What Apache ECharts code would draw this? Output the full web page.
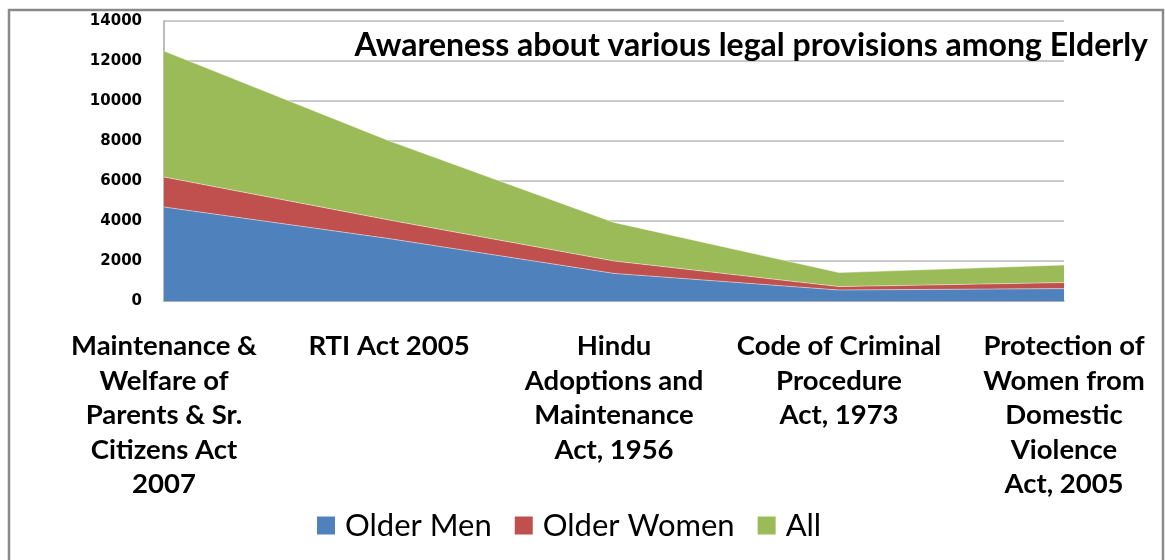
<!DOCTYPE html>
<html>
<head>
<meta charset="utf-8">
<script src="https://cdn.jsdelivr.net/npm/echarts@6/dist/echarts.min.js"></script>
<style>
	html, body { margin: 0; padding: 0; background: #fff; }
	#chartBox { width: 1165px; height: 560px; }
</style>
</head>
<body>
<div id="chartBox"></div>
<script>
// categories (line breaks as in the original labels)
var categories = [
	'Maintenance &\nWelfare of\nParents & Sr.\nCitizens Act\n2007',
	'RTI Act 2005',
	'Hindu\nAdoptions and\nMaintenance\nAct, 1956',
	'Code of Criminal\nProcedure\nAct, 1973',
	'Protection of\nWomen from\nDomestic\nViolence\nAct, 2005'
];
var seriesNames = ['Older Men', 'Older Women', 'All'];
var olderMen = [4700, 3120, 1380, 550, 620];
var olderWomen = [1500, 930, 620, 170, 300];
var allElderly = [6300, 3960, 1930, 700, 880];
var yTicks = { min: 0, max: 14000, step: 2000 };
var colors = ['#4F81BD', '#C0504D', '#9BBB59'];

var myChart = echarts.init(document.getElementById('chartBox'));

function areaSeries(name, values, color) {
	return {
		name: name,
		type: 'line',
		stack: 'total',
		symbol: 'none',
		data: values,
		itemStyle: { color: color },
		lineStyle: { width: 1, color: 'rgba(255,255,255,0.45)' },
		areaStyle: { color: color, opacity: 1 }
	};
}

var option = {
	animation: false,
	title: {
		text: 'Awareness about various legal provisions among Elderly',
		right: 12,
		top: 25,
		textStyle: { fontFamily: 'Lato', fontWeight: 'bold', fontSize: 32, color: '#000' }
	},
	legend: {
		left: 312,
		top: 505,
		itemWidth: 18,
		itemHeight: 18,
		itemGap: 23,
		icon: 'rect',
		data: seriesNames,
		textStyle: { fontFamily: 'Lato', fontSize: 31, color: '#000', padding: [0, 0, 0, 5] }
	},
	grid: { left: 164, right: 101, top: 21, bottom: 259 },
	xAxis: {
		type: 'category',
		boundaryGap: false,
		data: categories,
		axisLine: { show: true, lineStyle: { color: '#a6a6a6', width: 1.5 } },
		axisTick: { show: false },
		axisLabel: {
			interval: 0,
			margin: 28,
			fontFamily: 'Lato',
			fontWeight: 'bold',
			fontSize: 27.5,
			lineHeight: 34.5,
			color: '#000',
			align: 'center'
		}
	},
	yAxis: {
		type: 'value',
		min: yTicks.min,
		max: yTicks.max,
		interval: yTicks.step,
		axisLine: { show: true, lineStyle: { color: '#a6a6a6', width: 1.5 } },
		axisTick: { show: false },
		splitLine: { lineStyle: { color: '#b8b8b8', width: 1.5 } },
		axisLabel: {
			margin: 22,
			fontFamily: 'DejaVu Sans',
			fontWeight: 'bold',
			fontSize: 15,
			color: '#000',
			formatter: function (v) { return String(v); }
		}
	},
	graphic: [{
		type: 'rect',
		shape: { x: 9, y: 10, width: 1154, height: 580 },
		style: { fill: null, stroke: '#8a8a8a', lineWidth: 2.5 },
		silent: true
	}],
	series: [
		areaSeries(seriesNames[0], olderMen, colors[0]),
		areaSeries(seriesNames[1], olderWomen, colors[1]),
		areaSeries(seriesNames[2], allElderly, colors[2])
	]
};
myChart.setOption(option);
</script>
</body>
</html>
